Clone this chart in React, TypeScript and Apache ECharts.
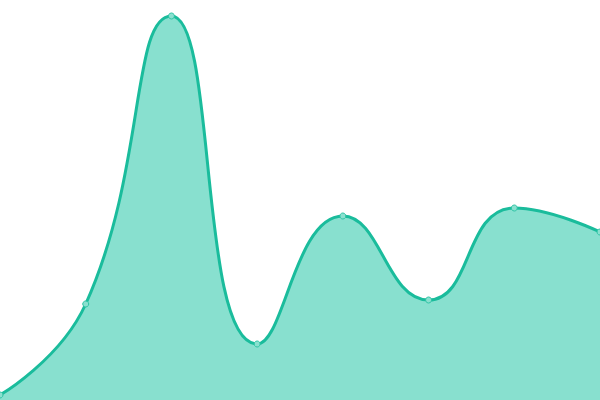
import React, { useEffect, useRef } from 'react';
import * as echarts from 'echarts';

const categories = ['1', '2', '3', '4', '5', '6', '7', '8'];
const values = [5, 96, 384, 56, 184, 100, 192, 168];

const App: React.FC = () => {
  const chartRef = useRef<HTMLDivElement>(null);

  useEffect(() => {
    document.body.style.margin = '0';
    if (!chartRef.current) return;
    const chart = echarts.init(chartRef.current, undefined, { renderer: 'svg' });

    chart.setOption({
      animation: false,
      grid: { left: 0, right: 0, top: 0, bottom: 0 },
      xAxis: {
        type: 'category',
        data: categories,
        boundaryGap: false,
        show: false,
      },
      yAxis: {
        type: 'value',
        min: 0,
        max: 400,
        show: false,
      },
      series: [
        {
          type: 'line',
          data: values,
          smooth: true,
          symbol: 'circle',
          symbolSize: 6,
          lineStyle: { color: '#1abc9c', width: 3 },
          itemStyle: { color: '#8ae0cf', borderColor: '#2ec4a5', borderWidth: 1 },
          areaStyle: { color: '#88e0cf', opacity: 1 },
        },
      ],
    });

    return () => chart.dispose();
  }, []);

  return <div ref={chartRef} style={{ width: 600, height: 400 }} />;
};

export default App;
